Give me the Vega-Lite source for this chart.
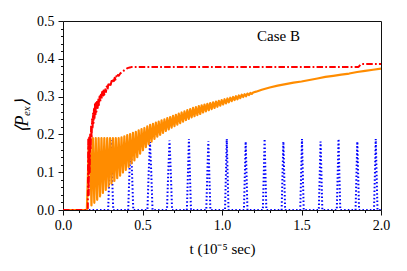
{
  "$schema": "https://vega.github.io/schema/vega-lite/v6.json",
  "width": 318,
  "height": 189,
  "autosize": {"type": "none"},
  "padding": {"left": 63, "top": 21, "right": 26, "bottom": 61},
  "background": "white",
  "config": {
    "view": {"stroke": "#111", "strokeWidth": 1},
    "axis": {"labelFont": "Liberation Serif", "titleFont": "Liberation Serif", "labelFontSize": 14, "labelColor": "black", "tickColor": "#111", "domain": false, "grid": false, "titleFontWeight": "normal", "titleColor": "black", "labelFlush": false}
  },
  "datasets": {
    "blue": [
      {"t":0,"v":0},
      {"t":0.284,"v":0},{"t":0.292,"v":0.1},{"t":0.300,"v":0.185},{"t":0.308,"v":0.1},{"t":0.316,"v":0},
      {"t":0.410,"v":0},{"t":0.418,"v":0.1},{"t":0.426,"v":0.180},{"t":0.434,"v":0.1},{"t":0.442,"v":0},
      {"t":0.531,"v":0},{"t":0.539,"v":0.1},{"t":0.547,"v":0.180},{"t":0.555,"v":0.1},{"t":0.563,"v":0},
      {"t":0.654,"v":0},{"t":0.662,"v":0.1},{"t":0.670,"v":0.184},{"t":0.678,"v":0.1},{"t":0.686,"v":0},
      {"t":0.779,"v":0},{"t":0.786,"v":0.1},{"t":0.792,"v":0.188},{"t":0.798,"v":0.1},{"t":0.805,"v":0},
      {"t":0.901,"v":0},{"t":0.908,"v":0.1},{"t":0.914,"v":0.182},{"t":0.920,"v":0.1},{"t":0.927,"v":0},
      {"t":1.019,"v":0},{"t":1.025,"v":0.1},{"t":1.030,"v":0.188},{"t":1.035,"v":0.1},{"t":1.041,"v":0},
      {"t":1.138,"v":0},{"t":1.144,"v":0.1},{"t":1.149,"v":0.181},{"t":1.154,"v":0.1},{"t":1.160,"v":0},
      {"t":1.257,"v":0},{"t":1.263,"v":0.1},{"t":1.268,"v":0.188},{"t":1.273,"v":0.1},{"t":1.279,"v":0},
      {"t":1.375,"v":0},{"t":1.381,"v":0.1},{"t":1.386,"v":0.181},{"t":1.391,"v":0.1},{"t":1.397,"v":0},
      {"t":1.492,"v":0},{"t":1.498,"v":0.1},{"t":1.503,"v":0.188},{"t":1.508,"v":0.1},{"t":1.514,"v":0},
      {"t":1.609,"v":0},{"t":1.615,"v":0.1},{"t":1.620,"v":0.181},{"t":1.625,"v":0.1},{"t":1.631,"v":0},
      {"t":1.722,"v":0},{"t":1.728,"v":0.1},{"t":1.733,"v":0.188},{"t":1.738,"v":0.1},{"t":1.744,"v":0},
      {"t":1.840,"v":0},{"t":1.846,"v":0.1},{"t":1.851,"v":0.181},{"t":1.856,"v":0.1},{"t":1.862,"v":0},
      {"t":1.956,"v":0},{"t":1.962,"v":0.1},{"t":1.967,"v":0.188},{"t":1.972,"v":0.1},{"t":1.978,"v":0},
      {"t":2.0,"v":0}
    ],
    "orange": [
      {"t":0,"v":0},{"t":0.15,"v":0},{"t":0.156,"v":0.08},{"t":0.162,"v":0.17},{"t":0.17,"v":0.19},
      {"t":0.179,"v":0.012},{"t":0.188,"v":0.19},{"t":0.197,"v":0.019},{"t":0.206,"v":0.19},
      {"t":0.215,"v":0.027},{"t":0.224,"v":0.19},{"t":0.233,"v":0.036},{"t":0.242,"v":0.19},
      {"t":0.251,"v":0.045},{"t":0.260,"v":0.19},{"t":0.269,"v":0.053},{"t":0.278,"v":0.19},
      {"t":0.287,"v":0.062},{"t":0.296,"v":0.19},{"t":0.305,"v":0.070},{"t":0.314,"v":0.19},
      {"t":0.323,"v":0.077},{"t":0.332,"v":0.19},{"t":0.341,"v":0.084},{"t":0.350,"v":0.19},
      {"t":0.359,"v":0.091},{"t":0.368,"v":0.192},{"t":0.377,"v":0.099},{"t":0.386,"v":0.195},
      {"t":0.395,"v":0.106},{"t":0.404,"v":0.198},{"t":0.413,"v":0.114},{"t":0.422,"v":0.201},
      {"t":0.431,"v":0.123},{"t":0.440,"v":0.204},{"t":0.449,"v":0.131},{"t":0.458,"v":0.207},
      {"t":0.467,"v":0.140},{"t":0.476,"v":0.211},{"t":0.485,"v":0.149},{"t":0.494,"v":0.214},
      {"t":0.503,"v":0.158},{"t":0.512,"v":0.217},{"t":0.521,"v":0.166},{"t":0.530,"v":0.221},
      {"t":0.539,"v":0.174},{"t":0.548,"v":0.225},{"t":0.557,"v":0.181},{"t":0.566,"v":0.228},
      {"t":0.575,"v":0.188},{"t":0.584,"v":0.231},{"t":0.593,"v":0.194},{"t":0.602,"v":0.234},
      {"t":0.611,"v":0.199},{"t":0.620,"v":0.237},{"t":0.629,"v":0.204},{"t":0.638,"v":0.240},
      {"t":0.647,"v":0.209},{"t":0.656,"v":0.243},{"t":0.665,"v":0.213},{"t":0.674,"v":0.246},
      {"t":0.683,"v":0.218},{"t":0.692,"v":0.249},{"t":0.701,"v":0.222},{"t":0.710,"v":0.252},
      {"t":0.719,"v":0.226},{"t":0.728,"v":0.255},{"t":0.737,"v":0.230},{"t":0.746,"v":0.258},
      {"t":0.755,"v":0.234},{"t":0.764,"v":0.261},{"t":0.773,"v":0.238},{"t":0.782,"v":0.264},
      {"t":0.791,"v":0.241},{"t":0.800,"v":0.267},{"t":0.809,"v":0.245},{"t":0.818,"v":0.270},
      {"t":0.827,"v":0.248},{"t":0.836,"v":0.272},{"t":0.845,"v":0.251},{"t":0.854,"v":0.275},
      {"t":0.863,"v":0.254},{"t":0.872,"v":0.277},{"t":0.881,"v":0.258},{"t":0.890,"v":0.279},
      {"t":0.899,"v":0.261},{"t":0.908,"v":0.281},{"t":0.917,"v":0.264},{"t":0.926,"v":0.283},
      {"t":0.935,"v":0.267},{"t":0.944,"v":0.285},{"t":0.953,"v":0.270},{"t":0.962,"v":0.287},
      {"t":0.971,"v":0.273},{"t":0.980,"v":0.289},{"t":0.989,"v":0.276},{"t":0.998,"v":0.291},
      {"t":1.007,"v":0.279},{"t":1.016,"v":0.293},{"t":1.025,"v":0.282},{"t":1.034,"v":0.295},
      {"t":1.043,"v":0.285},{"t":1.052,"v":0.297},{"t":1.061,"v":0.288},{"t":1.070,"v":0.299},
      {"t":1.079,"v":0.291},{"t":1.088,"v":0.301},{"t":1.097,"v":0.293},{"t":1.106,"v":0.303},
      {"t":1.115,"v":0.296},{"t":1.124,"v":0.305},{"t":1.133,"v":0.299},{"t":1.142,"v":0.3065},
      {"t":1.151,"v":0.301},{"t":1.160,"v":0.308},{"t":1.169,"v":0.304},{"t":1.178,"v":0.3095},
      {"t":1.187,"v":0.307},{"t":1.196,"v":0.311},{"t":1.214,"v":0.313},
      {"t":1.25,"v":0.318},{"t":1.3,"v":0.324},{"t":1.35,"v":0.329},
      {"t":1.4,"v":0.333},{"t":1.45,"v":0.337},{"t":1.5,"v":0.340},{"t":1.55,"v":0.344},
      {"t":1.6,"v":0.348},{"t":1.65,"v":0.352},{"t":1.7,"v":0.355},{"t":1.75,"v":0.358},
      {"t":1.8,"v":0.361},{"t":1.85,"v":0.365},{"t":1.9,"v":0.368},{"t":1.95,"v":0.371},
      {"t":2.0,"v":0.374}
    ],
    "red": [
      {"t":0,"v":0},{"t":0.152,"v":0},{"t":0.156,"v":0.005},{"t":0.159,"v":0.19},{"t":0.162,"v":0.04},
      {"t":0.165,"v":0.195},{"t":0.168,"v":0.10},{"t":0.171,"v":0.20},{"t":0.174,"v":0.16},
      {"t":0.177,"v":0.225},{"t":0.180,"v":0.19},{"t":0.183,"v":0.24},{"t":0.186,"v":0.215},
      {"t":0.189,"v":0.255},{"t":0.192,"v":0.23},{"t":0.195,"v":0.27},{"t":0.198,"v":0.24},
      {"t":0.201,"v":0.28},{"t":0.204,"v":0.25},{"t":0.207,"v":0.285},{"t":0.210,"v":0.26},
      {"t":0.214,"v":0.29},{"t":0.218,"v":0.27},{"t":0.222,"v":0.295},{"t":0.226,"v":0.278},
      {"t":0.230,"v":0.30},{"t":0.234,"v":0.285},{"t":0.238,"v":0.305},{"t":0.242,"v":0.292},
      {"t":0.246,"v":0.312},{"t":0.250,"v":0.298},{"t":0.255,"v":0.316},{"t":0.260,"v":0.305},
      {"t":0.265,"v":0.322},{"t":0.270,"v":0.312},{"t":0.275,"v":0.327},{"t":0.280,"v":0.319},
      {"t":0.285,"v":0.332},{"t":0.290,"v":0.326},{"t":0.295,"v":0.337},{"t":0.300,"v":0.331},
      {"t":0.305,"v":0.341},{"t":0.310,"v":0.336},{"t":0.315,"v":0.346},{"t":0.320,"v":0.341},
      {"t":0.325,"v":0.35},{"t":0.330,"v":0.345},{"t":0.335,"v":0.354},{"t":0.340,"v":0.35},
      {"t":0.345,"v":0.357},{"t":0.350,"v":0.355},{"t":0.36,"v":0.361},{"t":0.37,"v":0.365},
      {"t":0.38,"v":0.368},{"t":0.39,"v":0.371},{"t":0.40,"v":0.374},{"t":0.41,"v":0.376},
      {"t":0.42,"v":0.377},{"t":0.43,"v":0.378},{"t":1.855,"v":0.378},{"t":1.862,"v":0.380},
      {"t":1.870,"v":0.384},{"t":1.880,"v":0.386},{"t":2.0,"v":0.386}
    ]
  },
  "layer": [
    {
      "data": {"name": "blue"},
      "mark": {"type": "line", "color": "#0000ff", "strokeWidth": 2, "strokeDash": [1.5, 2.2], "clip": true},
      "encoding": {
        "x": {"field": "t", "type": "quantitative", "scale": {"domain": [0, 2], "nice": false, "zero": false},
          "axis": {"orient": "bottom", "values": [0, 0.5, 1, 1.5, 2], "format": ".1f", "tickSize": 5, "labelPadding": 3, "labelFont": "Liberation Serif", "labelFontSize": 14, "title": "t (10⁻⁵ sec)", "titleFont": "Liberation Serif", "titleFontSize": 15, "titlePadding": 9}},
        "y": {"field": "v", "type": "quantitative", "scale": {"domain": [0, 0.5], "nice": false, "zero": false},
          "axis": {"orient": "left", "values": [0, 0.1, 0.2, 0.3, 0.4, 0.5], "format": ".1f", "tickSize": 5, "labelPadding": 4, "labelFont": "Liberation Serif", "labelFontSize": 14, "title": "⟨Pₑₓ⟩", "titleFont": "Liberation Serif", "titleFontSize": 18, "titleFontStyle": "italic", "titlePadding": 5}}
      }
    },
    {
      "data": {"name": "orange"},
      "mark": {"type": "line", "color": "#ff8c00", "strokeWidth": 2.2, "strokeJoin": "round", "clip": true},
      "encoding": {
        "x": {"field": "t", "type": "quantitative", "scale": {"domain": [0, 2], "nice": false, "zero": false},
          "axis": {"orient": "bottom", "values": [0.1,0.2,0.3,0.4,0.6,0.7,0.8,0.9,1.1,1.2,1.3,1.4,1.6,1.7,1.8,1.9], "labels": false, "tickSize": 2.5, "title": null}},
        "y": {"field": "v", "type": "quantitative", "scale": {"domain": [0, 0.5], "nice": false, "zero": false},
          "axis": {"orient": "left", "values": [0.02,0.04,0.06,0.08,0.12,0.14,0.16,0.18,0.22,0.24,0.26,0.28,0.32,0.34,0.36,0.38,0.42,0.44,0.46,0.48], "labels": false, "tickSize": 2.5, "title": null}}
      }
    },
    {
      "data": {"name": "red"},
      "mark": {"type": "line", "color": "#ff0000", "strokeWidth": 2, "strokeJoin": "round", "strokeDash": [6.5, 2.2, 1.8, 2.2], "clip": true},
      "encoding": {
        "x": {"field": "t", "type": "quantitative", "axis": null},
        "y": {"field": "v", "type": "quantitative", "axis": null}
      }
    },
    {
      "data": {"values": [{"label": "Case B"}]},
      "mark": {"type": "text", "font": "Liberation Serif", "fontSize": 15, "color": "black"},
      "encoding": {
        "x": {"datum": 1.355, "type": "quantitative", "axis": null},
        "y": {"datum": 0.461, "type": "quantitative", "axis": null},
        "text": {"field": "label"}
      }
    }
  ],
  "resolve": {"axis": {"x": "independent", "y": "independent"}}
}
